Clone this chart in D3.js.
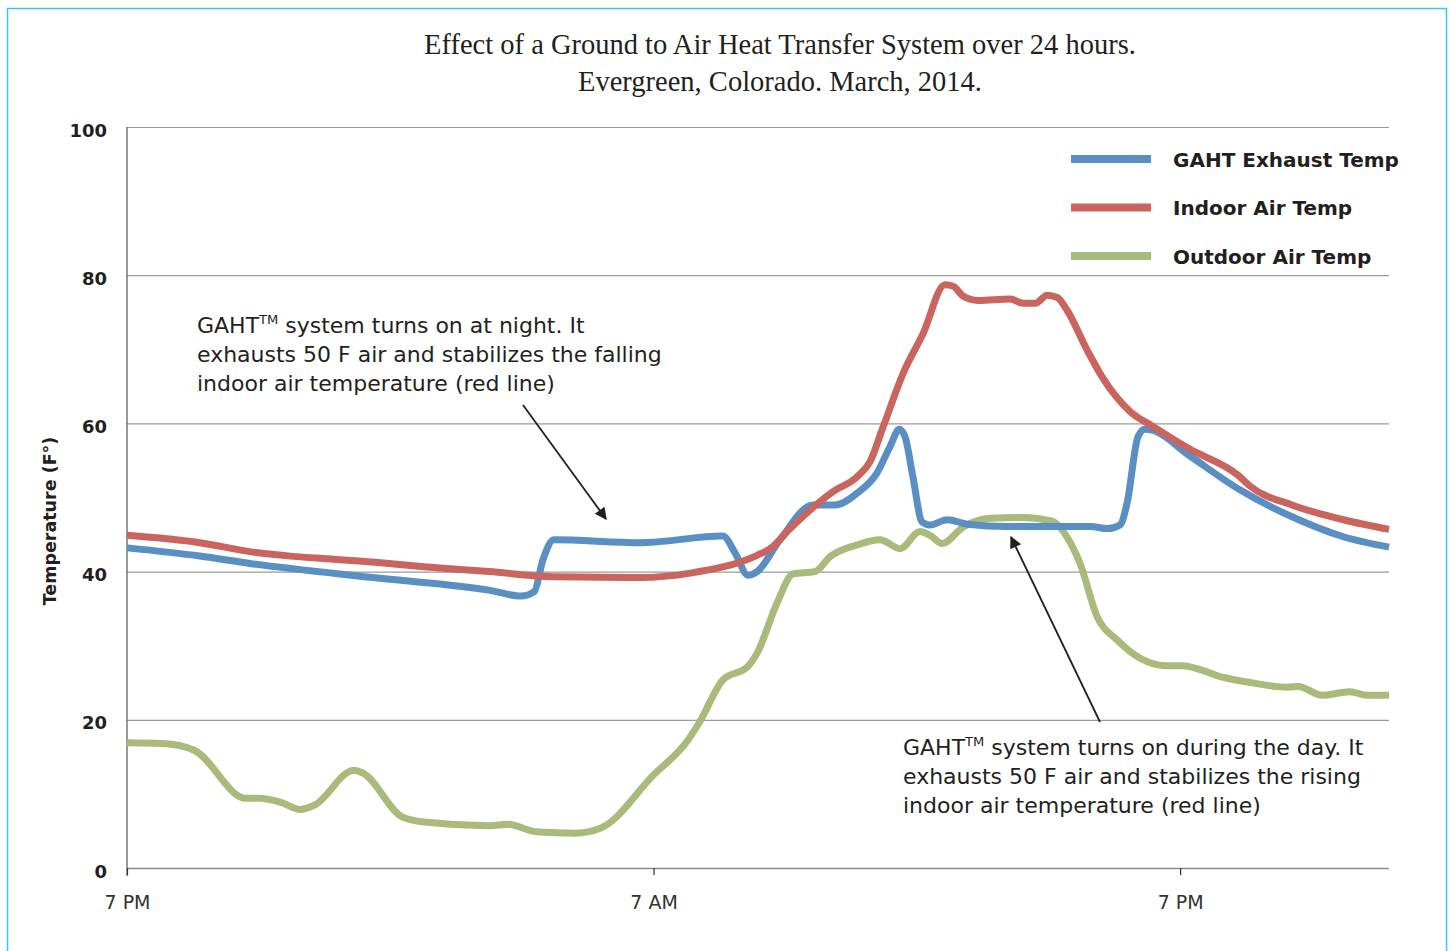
<!DOCTYPE html>
<html>
<head>
<meta charset="utf-8">
<script src="https://cdn.jsdelivr.net/npm/d3@7"></script>
<style>
  html, body { margin: 0; padding: 0; background: #fff; }
  svg { display: block; }
</style>
</head>
<body>
<svg id="chart" width="1450" height="951"></svg>
<script>
// ---------- DATA (hours after 7 PM, temperature °F) ----------
const gahtExhaust = [
  [0,43.2],[1.66,42.1],[2.8,41.1],[5.77,39.1],[8.25,37.5],[8.98,36.7],[9.28,37.3],[9.48,41.6],[9.73,44.3],
  [11.69,43.9],[13.58,44.8],[13.86,42.5],[14.15,39.5],[14.36,40.0],[14.88,44.3],[15.64,49.0],[16.14,49.0],
  [16.64,50.6],[17.09,53.3],[17.39,56.9],[17.60,59.2],[17.73,58.2],[17.91,52.8],[18.12,46.7],[18.30,46.3],
  [18.69,47.0],[19.15,46.4],[20.06,46.1],[21.95,46.1],[22.34,45.8],[22.63,46.3],[22.79,49.2],[23.04,58.2],
  [23.20,59.2],[23.36,59.1],[24.20,55.7],[25.37,51.0],[26.55,47.4],[27.72,44.7],[28.76,43.3]
];
const indoorAir = [
  [0,44.9],[1.66,43.9],[2.8,42.7],[4.85,41.6],[5.56,41.3],[7.13,40.5],[8.25,40.0],[9.73,39.3],[11.69,39.2],
  [12.84,39.8],[14.36,42.2],[14.66,43.1],[15.11,45.8],[16.09,50.8],[16.64,52.8],[16.93,54.8],[17.23,59.5],
  [17.69,66.8],[18.14,72.1],[18.64,78.7],[18.83,78.5],[19.05,77.2],[19.40,76.6],[20.13,76.8],[20.42,76.2],
  [20.70,76.2],[20.97,77.3],[21.20,77.0],[21.42,75.3],[21.88,69.9],[22.24,66.1],[22.86,61.6],[23.38,59.6],
  [24.20,56.6],[25.32,53.0],[25.60,51.5],[26.55,49.0],[27.72,47.0],[28.76,45.7]
];
const outdoorAir = [
  [0,16.9],[0.82,16.8],[1.53,15.9],[2.71,9.4],[3.01,9.4],[3.49,8.9],[3.94,7.9],[4.28,8.5],[5.17,13.2],
  [5.38,12.8],[6.27,6.9],[6.77,6.2],[8.25,5.7],[8.68,5.9],[9.32,4.9],[10.21,4.7],[10.80,5.4],[11.99,12.5],
  [12.79,17.3],[13.04,19.6],[13.58,25.4],[14.15,27.2],[14.36,29.0],[14.81,35.7],[15.18,39.7],[15.68,40.0],
  [16.02,42.0],[16.64,43.6],[17.16,44.3],[17.62,43.1],[18.07,45.4],[18.30,44.9],[18.58,43.8],[19.05,46.0],
  [19.67,47.2],[20.42,47.3],[21.08,46.8],[21.42,44.7],[21.72,41.1],[22.11,33.9],[22.56,30.8],[23.09,28.3],
  [23.66,27.3],[24.05,27.3],[24.50,26.7],[24.82,26.0],[25.53,25.1],[26.46,24.4],[26.69,24.5],[27.24,23.3],
  [27.87,23.8],[28.26,23.3],[28.76,23.3]
];
const seriesNames = ["GAHT Exhaust Temp", "Indoor Air Temp", "Outdoor Air Temp"];
const xTickHours = [0, 12, 24];
const xTickLabels = ["7 PM", "7 AM", "7 PM"];
const yTickValues = [0, 20, 40, 60, 80, 100];
const titleLines = ["Effect of a Ground to Air Heat Transfer System over 24 hours.", "Evergreen, Colorado. March, 2014."];
const noteNight = ["system turns on at night. It", "exhausts 50 F air and stabilizes the falling", "indoor air temperature (red line)"];
const noteDay = ["system turns on during the day. It", "exhausts 50 F air and stabilizes the rising", "indoor air temperature (red line)"];

// ---------- SETUP ----------
const colors = ["#5a8fc4", "#c9645e", "#a9ba7b"];
const svg = d3.select("#chart");
const pL = 127, pR = 1389, pT = 127, pB = 868;
const x = d3.scaleLinear().domain([0, 28.76]).range([pL, pR]);
const y = d3.scaleLinear().domain([0, 100]).range([pB, pT]);
const ink = "#231f20";

// frame
svg.append("rect").attr("x", 7.5).attr("y", 8.5).attr("width", 1439).attr("height", 980)
  .attr("fill", "none").attr("stroke", "#3fc3f2").attr("stroke-width", 1.5);

// title
const title = svg.append("text").attr("font-family", "'Liberation Serif', serif")
  .attr("font-size", 28.5).attr("fill", ink).attr("text-anchor", "middle");
titleLines.forEach((t, i) => title.append("tspan").attr("x", 780).attr("y", 54 + i * 37).text(t));

// gridlines
const grid = svg.append("g").attr("transform", `translate(${pL},0)`)
  .call(d3.axisLeft(y).tickValues(yTickValues.filter(v => v > 0)).tickSize(-(pR - pL)).tickFormat(""));
grid.select(".domain").remove();
grid.selectAll("line").attr("stroke", "#9a9a9a").attr("stroke-width", 1.2);

// y axis
const yAxis = svg.append("g").attr("transform", `translate(${pL},0)`)
  .call(d3.axisLeft(y).tickValues(yTickValues).tickSize(0).tickPadding(20));
yAxis.select(".domain").remove();
yAxis.selectAll("text").attr("font-family", "'DejaVu Sans', sans-serif").attr("font-weight", "bold")
  .attr("font-size", 18).attr("fill", ink).attr("dy", "0.5em");
svg.append("line").attr("x1", pL).attr("x2", pL).attr("y1", pT).attr("y2", pB + 8)
  .attr("stroke", "#555").attr("stroke-width", 1.2);

// x axis
const xAxis = svg.append("g").attr("transform", `translate(0,${pB})`)
  .call(d3.axisBottom(x).tickValues(xTickHours).tickSize(7).tickPadding(21)
    .tickFormat((d, i) => xTickLabels[i]));
xAxis.select(".domain").attr("d", `M${pL},0.5H${pR}`).attr("stroke", "#8a8a8a").attr("stroke-width", 1.5);
xAxis.selectAll(".tick line").attr("stroke", "#333").attr("stroke-width", 1.2);
xAxis.selectAll("text").attr("font-family", "'DejaVu Sans', sans-serif").attr("font-size", 19)
  .attr("fill", "#333");

// y label
svg.append("text").attr("transform", "translate(56,521) rotate(-90)").attr("text-anchor", "middle")
  .attr("font-family", "'DejaVu Sans', sans-serif").attr("font-weight", "bold").attr("font-size", 17.5)
  .attr("fill", ink).text("Temperature (F°)");

// lines
const line = d3.line().x(d => x(d[0])).y(d => y(d[1])).curve(d3.curveMonotoneX);
const seriesData = [gahtExhaust, indoorAir, outdoorAir];
[2, 0, 1].forEach(i => {
  svg.append("path").datum(seriesData[i]).attr("d", line).attr("fill", "none")
    .attr("stroke", colors[i]).attr("stroke-width", 7).attr("stroke-linejoin", "round").attr("stroke-linecap", "butt");
});

// legend
seriesNames.forEach((name, i) => {
  const ly = 159 + i * 48.5;
  svg.append("line").attr("x1", 1071).attr("x2", 1151).attr("y1", ly).attr("y2", ly)
    .attr("stroke", colors[i]).attr("stroke-width", 8);
  svg.append("text").attr("x", 1173).attr("y", ly + 7.5).attr("font-family", "'DejaVu Sans', sans-serif")
    .attr("font-weight", "bold").attr("font-size", 20).attr("fill", ink).text(name);
});

// annotations
function note(lines, x0, y0) {
  const t = svg.append("text").attr("font-family", "'DejaVu Sans', sans-serif").attr("font-size", 22).attr("fill", ink);
  lines.forEach((s, i) => {
    if (i === 0) {
      t.append("tspan").attr("x", x0).attr("y", y0).text("GAHT");
      t.append("tspan").attr("font-size", 13).attr("dy", -9).text("TM");
      t.append("tspan").attr("dy", 9).text(" " + s);
    } else {
      t.append("tspan").attr("x", x0).attr("y", y0 + i * 29).text(s);
    }
  });
}
note(noteNight, 197, 333);
note(noteDay, 903, 755);

// arrows
svg.append("defs").append("marker").attr("id", "ah").attr("viewBox", "0 0 10 10").attr("refX", 9).attr("refY", 5)
  .attr("markerWidth", 15).attr("markerHeight", 12).attr("markerUnits", "userSpaceOnUse").attr("orient", "auto")
  .append("path").attr("d", "M0,0L10,5L0,10Z").attr("fill", ink);
[[523, 405, 606, 519], [1100, 722, 1011, 537]].forEach(a => {
  svg.append("line").attr("x1", a[0]).attr("y1", a[1]).attr("x2", a[2]).attr("y2", a[3])
    .attr("stroke", ink).attr("stroke-width", 1.8).attr("marker-end", "url(#ah)");
});
</script>
</body>
</html>
